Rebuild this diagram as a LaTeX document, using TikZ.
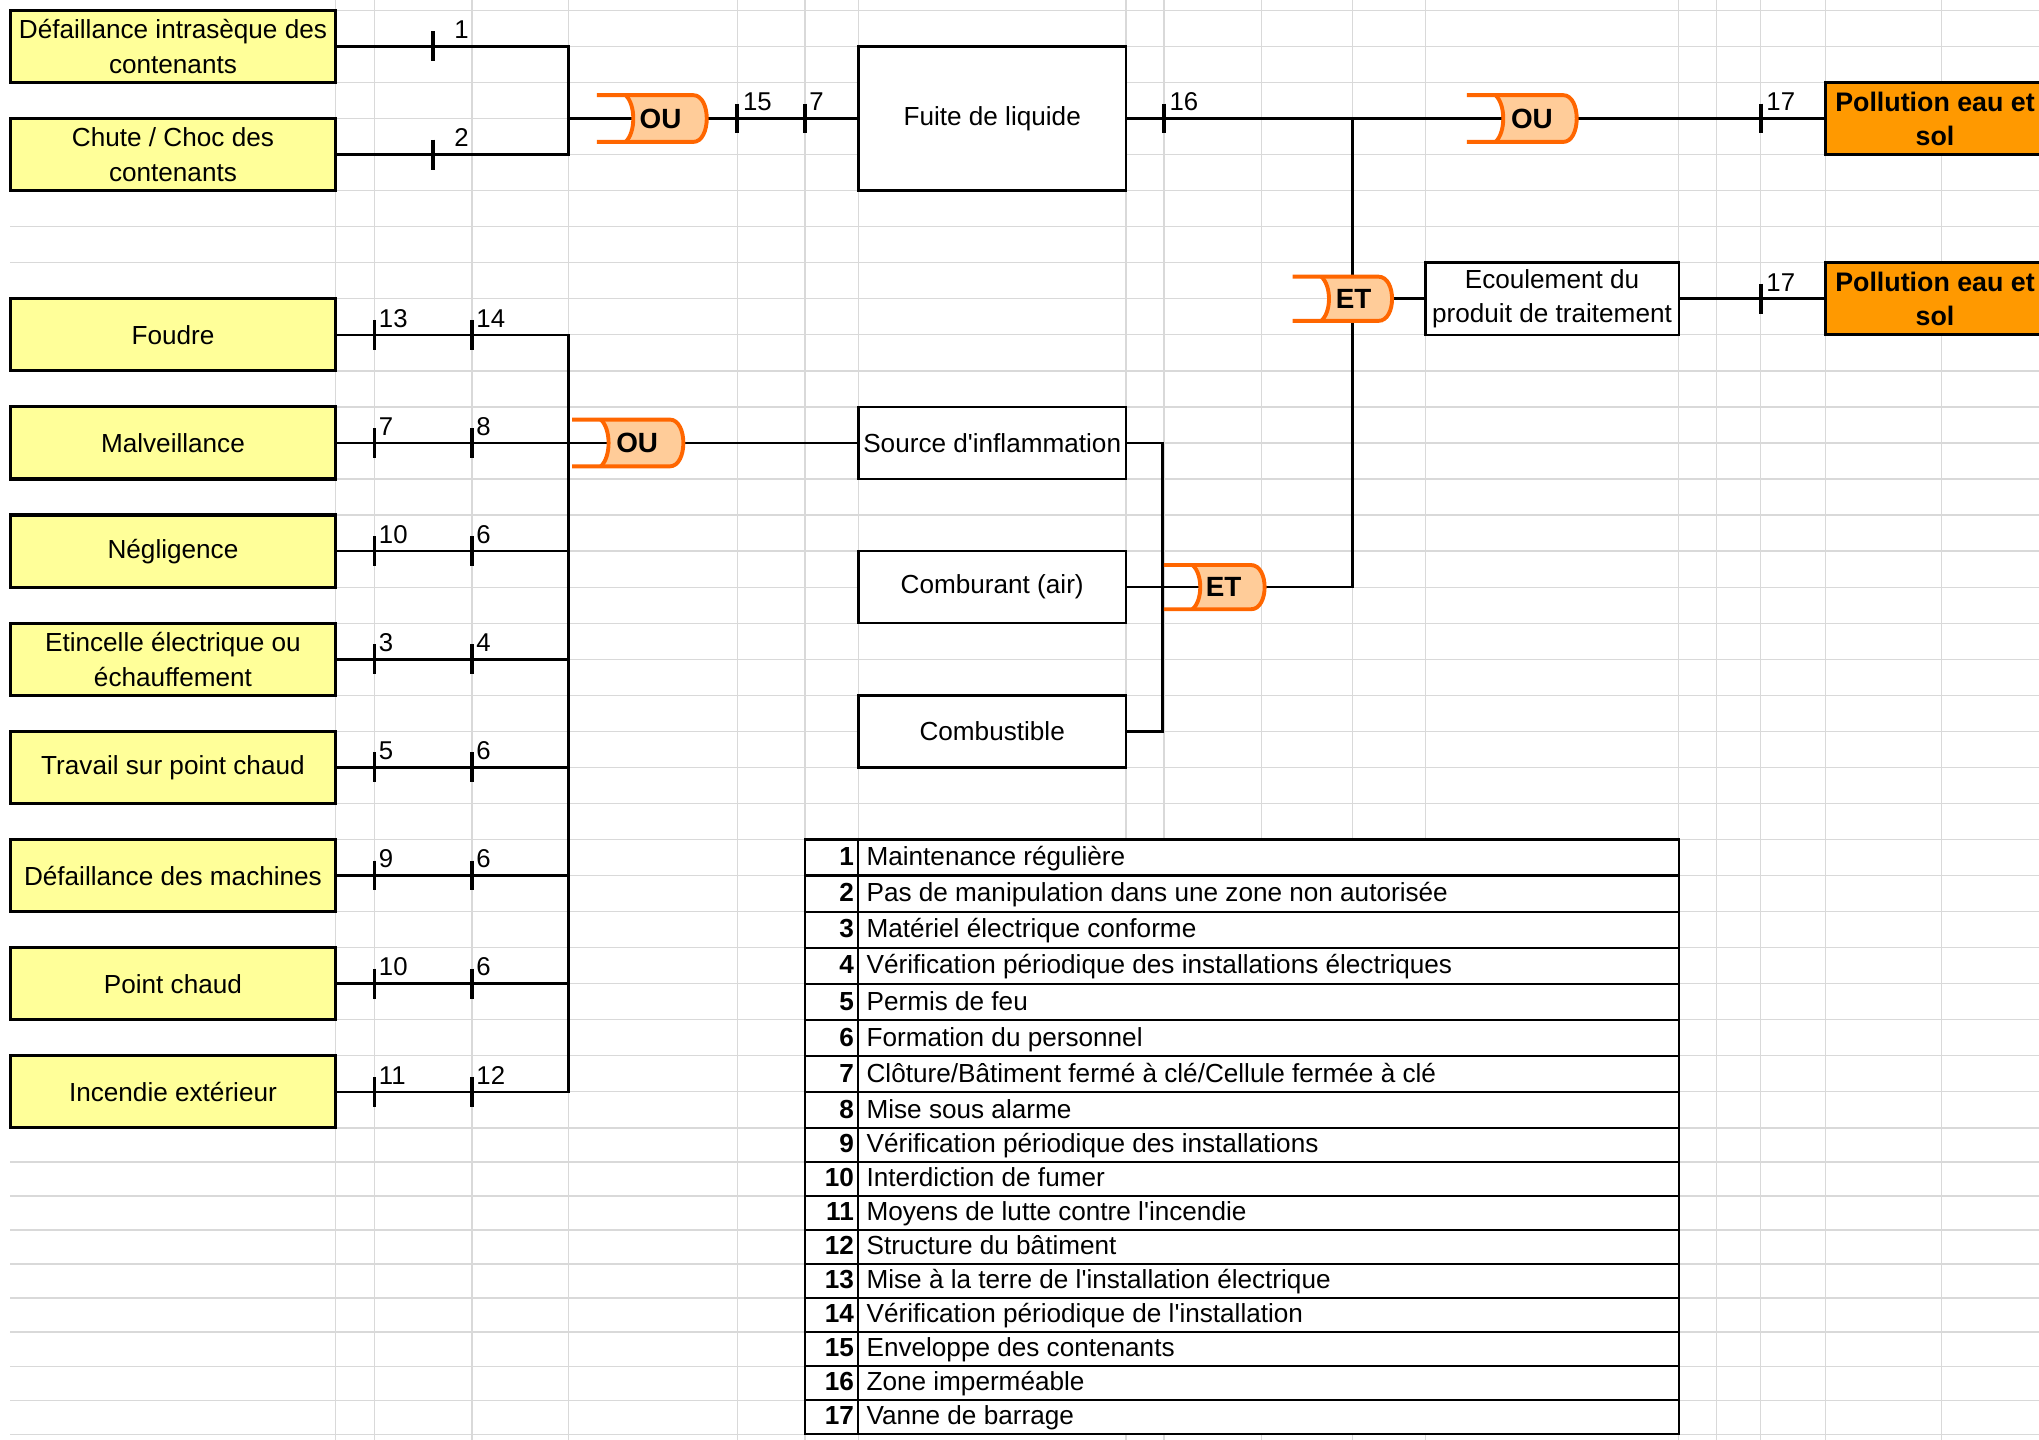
\documentclass[tikz,border=0pt]{standalone}
\usepackage{fontspec}
\setmainfont{Liberation Sans}[Ligatures=TeXOff]

\definecolor{gridgray}{HTML}{D9D9D9}
\definecolor{causeyellow}{HTML}{FFFF99}
\definecolor{topfill}{HTML}{FF9900}
\definecolor{gatefill}{HTML}{FFCC99}
\definecolor{gateline}{HTML}{FF6600}

\pgfdeclarelayer{sheet}
\pgfdeclarelayer{wires}
\pgfsetlayers{sheet,wires,main}

% #1 name, #2 left x, #3 centre y, #4 width, #5 half height, #6 label, #7 label offset
\newcommand{\faultgate}[7]{%
  \begin{scope}[shift={(#2,#3)}]
    \fill[gatebody] (22,-#5) -- (#4-11,-#5) .. controls (#4+3,-#5) and (#4+3,#5) .. (#4-11,#5)
      -- (22,#5) .. controls (30,#5*0.6) and (30,-#5*0.6) .. cycle;
    \draw[gateedge] (0,-#5) -- (#4-11,-#5) .. controls (#4+3,-#5) and (#4+3,#5) .. (#4-11,#5) -- (0,#5);
    \draw[gateedge] (22,-#5) .. controls (30,-#5*0.6) and (30,#5*0.6) .. (22,#5);
    \node[gatelabel] (#1) at (#7,0) {#6};
    \coordinate (#1-in) at (27,0);
    \coordinate (#1-out) at (#4,0);
  \end{scope}}

\begin{document}
\begin{tikzpicture}[x=0.5pt,y=-0.5pt,
  cell/.style={draw=gridgray,line width=0.5pt},
  cause/.style={draw,line width=1.2pt,fill=causeyellow,minimum width=125pt,minimum height=27.72pt,
    inner sep=0pt,align=center,font=\fontsize{10.05}{13.5}\selectfont},
  event/.style={draw,line width=1pt,fill=white,minimum width=103pt,minimum height=27.72pt,
    inner sep=0pt,align=center,font=\fontsize{10.05}{13}\selectfont},
  topevent/.style={draw,line width=1.2pt,fill=topfill,minimum width=84pt,minimum height=27.72pt,
    inner sep=0pt,align=center,font=\bfseries\fontsize{10.3}{13}\selectfont},
  conn/.style={line width=1pt},
  barrier/.style={line width=1.5pt},
  barlabel/.style={anchor=base west,inner sep=0pt,font=\fontsize{9.9}{12}\selectfont},
  gatebody/.style={fill=gatefill},
  gateedge/.style={draw=gateline,line width=1.5pt},
  gatelabel/.style={inner sep=0pt,font=\bfseries\fontsize{10.7}{12}\selectfont},
  legnum/.style={anchor=base east,inner sep=0pt,font=\bfseries\fontsize{10.05}{12}\selectfont},
  legtext/.style={anchor=base west,inner sep=0pt,font=\fontsize{10.05}{12}\selectfont},
  legrule/.style={line width=0.8pt}
]
\useasboundingbox (0,0) rectangle (1568,1107);

% spreadsheet cells
\begin{pgfonlayer}{sheet}
  \fill[white] (0,0) rectangle (1568,1107);
  \foreach \y in {8,35.72,63.44,91.16,118.88,146.6,174.32,202.04,229.76,257.48,285.2,312.92,
      340.64,368.36,396.08,423.8,451.52,479.24,506.96,534.68,562.4,590.12,617.84,645.56,673.28,
      701,728.72,756.44,784.16,811.88,839.6,867.32,893.5,919.68,945.86,972.04,998.22,1024.4,
      1050.58,1076.76,1102.94}
    \draw[cell] (8,\y) -- (1568,\y);
  \foreach \x in {258,288,363,437,567,619,660,866,895,970,1040,1096,1291,1320,1354,1404,1493}
    \draw[cell] (\x,0) -- (\x,1107);
\end{pgfonlayer}

\clip (0,0) rectangle (1568,1107);

% basic causes
\node[cause] (c1) at (133,35.72) {Défaillance intrasèque des\\contenants};
\node[cause] (c2) at (133,118.88) {Chute / Choc des\\contenants};
\node[cause] (c3) at (133,257.48) {Foudre};
\node[cause] (c4) at (133,340.64) {Malveillance};
\node[cause] (c5) at (133,423.8) {Négligence};
\node[cause] (c6) at (133,506.96) {Etincelle électrique ou\\échauffement};
\node[cause] (c7) at (133,590.12) {Travail sur point chaud};
\node[cause] (c8) at (133,673.28) {Défaillance des machines};
\node[cause] (c9) at (133,756.44) {Point chaud};
\node[cause] (c10) at (133,839.6) {Incendie extérieur};

% intermediate events
\node[event,minimum height=55.44pt] (fuite) at (763,91.16) {Fuite de liquide};
\node[event] (src) at (763,340.64) {Source d'inflammation};
\node[event] (air) at (763,451.52) {Comburant (air)};
\node[event] (fuel) at (763,562.4) {Combustible};
\node[event,minimum width=97.5pt] (ecoul) at (1193.5,229.76) {Ecoulement du\\produit de traitement};

% top events
\node[topevent] (pol1) at (1488,91.16) {Pollution eau et\\sol};
\node[topevent] (pol2) at (1488,229.76) {Pollution eau et\\sol};

% gates
\faultgate{g1}{459}{91.16}{85}{18}{OU}{49}
\faultgate{g2}{440}{340.64}{86}{18}{OU}{50}
\faultgate{g3}{1128}{91.16}{85}{18}{OU}{50}
\faultgate{g4}{994}{229.76}{77}{17}{ET}{47}
\faultgate{g5}{895}{451.52}{78}{17}{ET}{46}

% junction points
\coordinate (ja) at (437,91.16);
\coordinate (jb) at (437,839.6);
\coordinate (jc) at (1040,91.16);
\coordinate (jd) at (894,340.64);
\coordinate (je) at (894,562.4);

% connectors
\begin{pgfonlayer}{wires}
  \draw[conn] (c1.east) -| (ja) |- (c2.east);
  \draw[conn] (ja) -- (g1-in);
  \draw[conn] (g1-out) -- (fuite.west);
  \draw[conn] (c3.east) -| (jb) -- (c10.east);
  \draw[conn] (c4.east) -- (g2-in);
  \foreach \c in {c5,c6,c7,c8,c9}
    \draw[conn] (\c.east) -- (\c.east -| jb);
  \draw[conn] (g2-out) -- (src.west);
  \draw[conn] (src.east) -- (jd) -- (je) -- (fuel.east);
  \draw[conn] (air.east) -- (g5-in);
  \draw[conn] (g5-out) -| (jc);
  \draw[conn] (fuite.east) -- (g3-in);
  \draw[conn] (g3-out) -- (pol1.west);
  \draw[conn] (g4-out) -- (ecoul.west);
  \draw[conn] (ecoul.east) -- (pol2.west);
\end{pgfonlayer}

% safety barriers
\foreach \x/\y in {333/35.72,333/118.88,567/91.16,619/91.16,895/91.16,1354/91.16,1354/229.76,
    288/257.48,363/257.48,288/340.64,363/340.64,288/423.8,363/423.8,288/506.96,363/506.96,
    288/590.12,363/590.12,288/673.28,363/673.28,288/756.44,363/756.44,288/839.6,363/839.6}
  \draw[barrier] (\x,\y-11.5) -- (\x,\y+11.5);

\node[barlabel] (b1) at (349,29.7) {1};
\node[barlabel] (b2) at (349,112.9) {2};
\node[barlabel] (b15) at (571,85.2) {15};
\node[barlabel] (b7a) at (622,85.2) {7};
\node[barlabel] (b16) at (899,85.2) {16};
\node[barlabel] (b17a) at (1358,85.2) {17};
\node[barlabel] (b17b) at (1358,223.8) {17};
\node[barlabel] (l3a) at (291,251.5) {13};
\node[barlabel] (l3b) at (366,251.5) {14};
\node[barlabel] (l4a) at (291,334.6) {7};
\node[barlabel] (l4b) at (366,334.6) {8};
\node[barlabel] (l5a) at (291,417.8) {10};
\node[barlabel] (l5b) at (366,417.8) {6};
\node[barlabel] (l6a) at (291,501) {3};
\node[barlabel] (l6b) at (366,501) {4};
\node[barlabel] (l7a) at (291,584.1) {5};
\node[barlabel] (l7b) at (366,584.1) {6};
\node[barlabel] (l8a) at (291,667.3) {9};
\node[barlabel] (l8b) at (366,667.3) {6};
\node[barlabel] (l9a) at (291,750.4) {10};
\node[barlabel] (l9b) at (366,750.4) {6};
\node[barlabel] (l10a) at (291,833.6) {11};
\node[barlabel] (l10b) at (366,833.6) {12};

% legend of barriers
\fill[white] (619,645.56) rectangle (1291,1102.94);
\draw[legrule] (619,645.56) rectangle (1291,1102.94);
\draw[legrule] (660,645.56) -- (660,1102.94);
\foreach \y in {673.28,701,728.72,756.44,784.16,811.88,839.6,867.32,893.5,919.68,945.86,
    972.04,998.22,1024.4,1050.58,1076.76}
  \draw[legrule] (619,\y) -- (1291,\y);

\node[legnum] (n1) at (657,665.8) {1};
\node[legtext] (t1) at (666,665.8) {Maintenance régulière};
\node[legnum] (n2) at (657,693.5) {2};
\node[legtext] (t2) at (666,693.5) {Pas de manipulation dans une zone non autorisée};
\node[legnum] (n3) at (657,721.2) {3};
\node[legtext] (t3) at (666,721.2) {Matériel électrique conforme};
\node[legnum] (n4) at (657,748.9) {4};
\node[legtext] (t4) at (666,748.9) {Vérification périodique des installations électriques};
\node[legnum] (n5) at (657,776.7) {5};
\node[legtext] (t5) at (666,776.7) {Permis de feu};
\node[legnum] (n6) at (657,804.4) {6};
\node[legtext] (t6) at (666,804.4) {Formation du personnel};
\node[legnum] (n7) at (657,832.1) {7};
\node[legtext] (t7) at (666,832.1) {Clôture/Bâtiment fermé à clé/Cellule fermée à clé};
\node[legnum] (n8) at (657,859.8) {8};
\node[legtext] (t8) at (666,859.8) {Mise sous alarme};
\node[legnum] (n9) at (657,886) {9};
\node[legtext] (t9) at (666,886) {Vérification périodique des installations};
\node[legnum] (n10) at (657,912.2) {10};
\node[legtext] (t10) at (666,912.2) {Interdiction de fumer};
\node[legnum] (n11) at (657,938.4) {11};
\node[legtext] (t11) at (666,938.4) {Moyens de lutte contre l'incendie};
\node[legnum] (n12) at (657,964.5) {12};
\node[legtext] (t12) at (666,964.5) {Structure du bâtiment};
\node[legnum] (n13) at (657,990.7) {13};
\node[legtext] (t13) at (666,990.7) {Mise à la terre de l'installation électrique};
\node[legnum] (n14) at (657,1016.9) {14};
\node[legtext] (t14) at (666,1016.9) {Vérification périodique de l'installation};
\node[legnum] (n15) at (657,1043.1) {15};
\node[legtext] (t15) at (666,1043.1) {Enveloppe des contenants};
\node[legnum] (n16) at (657,1069.3) {16};
\node[legtext] (t16) at (666,1069.3) {Zone imperméable};
\node[legnum] (n17) at (657,1095.4) {17};
\node[legtext] (t17) at (666,1095.4) {Vanne de barrage};
\end{tikzpicture}
\end{document}
